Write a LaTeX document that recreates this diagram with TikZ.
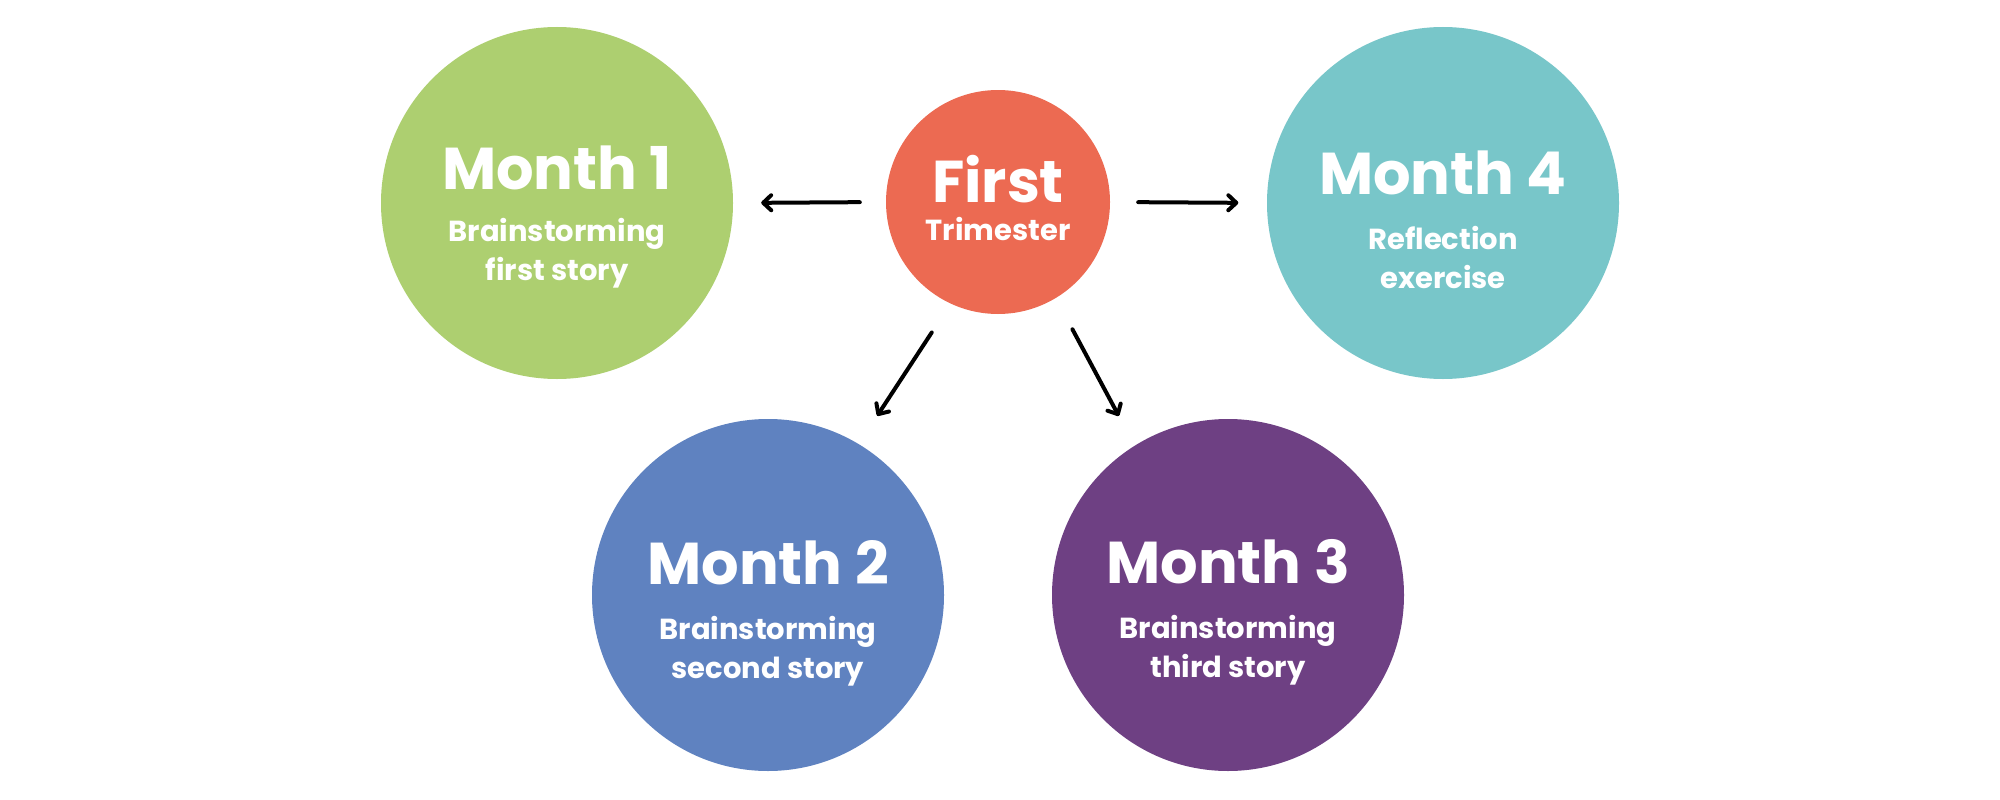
\documentclass[tikz,border=0pt]{standalone}
\usepackage{fontspec}
\setmainfont{Poppins}
\usetikzlibrary{arrows.meta}
\definecolor{cgreen}{HTML}{ADCF70}
\definecolor{cred}{HTML}{EC6A52}
\definecolor{cteal}{HTML}{78C6C9}
\definecolor{cblue}{HTML}{5F82C0}
\definecolor{cpurple}{HTML}{6E4083}
\tikzset{
  bigcircle/.style={circle, minimum size=352pt, inner sep=0pt},
  hubcircle/.style={circle, minimum size=224pt, inner sep=0pt, fill=cred},
  titletext/.style={anchor=base, text=white, inner sep=0pt, font=\fontsize{59}{59}\selectfont\bfseries},
  subtext/.style={anchor=base, text=white, inner sep=0pt, align=center, font=\fontsize{29}{39}\selectfont\bfseries},
  arr/.style={draw=black, line width=4pt, line cap=round, line join=round,
    -{Straight Barb[round, length=8pt, width=15pt]}}
}
\begin{document}
\begin{tikzpicture}[x=1pt,y=-1pt]
\useasboundingbox[fill=white] (0,0) rectangle (2000,800);
\node[bigcircle, fill=cgreen] (m1) at (557,203) {};
\node[hubcircle] (first) at (998,202) {};
\node[bigcircle, fill=cteal] (m4) at (1443,203) {};
\node[bigcircle, fill=cblue] (m2) at (768,595) {};
\node[bigcircle, fill=cpurple] (m3) at (1228,595) {};
% texts (subtitle nodes are anchored at the baseline of their last line)
\node[titletext] (m1t) at (557,189) {Month 1};
\node[subtext] (m1s) at (557,280) {Brainstorming\\first story};
\node[titletext] (ft) at (998,202) {First};
\node[subtext] (fs) at (998,240) {Trimester};
\node[titletext] (m4t) at (1443,194) {Month 4};
\node[subtext] (m4s) at (1443,288) {Reflection\\exercise};
\node[titletext] (m2t) at (768,584) {Month 2};
\node[subtext] (m2s) at (768,678) {Brainstorming\\second story};
\node[titletext] (m3t) at (1228,583) {Month 3};
\node[subtext] (m3s) at (1228,677) {Brainstorming\\third story};
% arrows
\draw[arr, shorten <=26pt, shorten >=28pt] (first.west) -- (m1.east);
\draw[arr, shorten <=28pt, shorten >=28.5pt] (first.east) -- (m4.west);
\draw[arr, shorten <=34.4pt, shorten >=33.7pt] (first.-115.6) -- (m2.59.7);
\draw[arr, shorten <=35.3pt, shorten >=33.6pt] (first.-59.9) -- (m3.122.3);
\end{tikzpicture}
\end{document}
